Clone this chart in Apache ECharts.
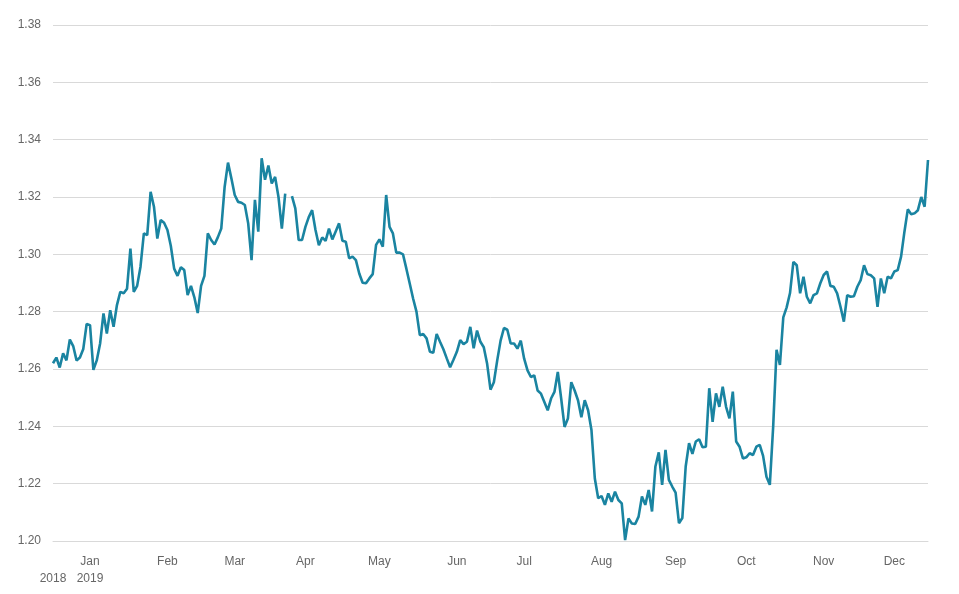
<!DOCTYPE html>
<html>
<head>
<meta charset="utf-8">
<script src="https://cdn.jsdelivr.net/npm/echarts@6/dist/echarts.min.js"></script>
<style>
html,body{margin:0;padding:0;background:#fff;}
#chart{width:959px;height:594px;}
</style>
</head>
<body>
<div id="chart"></div>
<script>
// Weekday closing rates, from 17 Dec 2018 (one value per weekday)
var startDate = '2018-12-17';
var rates = [
  1.262, 1.264, 1.2605, 1.2655, 1.263, 1.2703, 1.268, 1.263, 1.264, 1.267, 1.2757,
  1.2753, 1.2597, 1.263, 1.2689, 1.2794, 1.2724, 1.2805, 1.2747, 1.2823, 1.2869, 1.2864,
  1.288, 1.302, 1.2869, 1.289, 1.2957, 1.3073, 1.3067, 1.3218, 1.3166, 1.3055, 1.312,
  1.311, 1.3085, 1.303, 1.295, 1.2925, 1.2955, 1.2945, 1.2858, 1.289, 1.285, 1.2795,
  1.289, 1.2925, 1.3073, 1.305, 1.3034, 1.306, 1.309, 1.3235, 1.332, 1.3265, 1.3207,
  1.3183, 1.318, 1.3172, 1.3108, 1.298, 1.319, 1.3079, 1.3335, 1.326, 1.331, 1.3247,
  1.327, 1.32, 1.309, 1.3212, null, 1.3203, 1.316, 1.305, 1.305, 1.3096, 1.313,
  1.3154, 1.3085, 1.3032, 1.3059, 1.3047, 1.309, 1.3052, 1.308, 1.3108, 1.3047,
  1.3044, 1.2986, 1.2992, 1.298, 1.2933, 1.2901, 1.2899, 1.2916, 1.2931, 1.3033, 1.3052,
  1.3027, 1.3207, 1.3096, 1.3073, 1.3006, 1.3006, 1.3, 1.295, 1.2898, 1.2846, 1.28,
  1.2718, 1.2722, 1.2707, 1.266, 1.2657, 1.2722, 1.2695, 1.2669, 1.2637, 1.2606, 1.2632,
  1.266, 1.2701, 1.2687, 1.2695, 1.2747, 1.2672, 1.2734, 1.2695, 1.2676,
  1.2618, 1.2528, 1.2554, 1.263, 1.2699, 1.2743, 1.2737, 1.2689, 1.2689, 1.2671, 1.2699,
  1.2636, 1.2595, 1.2572, 1.2578, 1.2525, 1.2514, 1.2485, 1.2456, 1.2497, 1.252, 1.259,
  1.2497, 1.2398, 1.2427, 1.2554, 1.2525, 1.2491, 1.2432, 1.2491, 1.2456, 1.2387, 1.2218,
  1.2149, 1.2157, 1.2126, 1.2166, 1.2137, 1.2172, 1.2143, 1.2131, 1.2003, 1.2079, 1.2061,
  1.2059, 1.2085, 1.2155, 1.2126, 1.2178, 1.2103, 1.226, 1.2309, 1.2196, 1.2318, 1.2213,
  1.219, 1.2169, 1.2062, 1.208, 1.226, 1.2341, 1.2304, 1.2347, 1.2355, 1.2327, 1.2329,
  1.2533, 1.2416, 1.2515, 1.2468, 1.2538, 1.2468, 1.2428, 1.2521, 1.2347, 1.2329, 1.2288,
  1.2292, 1.2306, 1.23, 1.2329, 1.2335, 1.2297, 1.2224, 1.2196, 1.2400, 1.2667, 1.2614,
  1.278, 1.2815, 1.2865, 1.2974, 1.2962, 1.2864, 1.2922, 1.2852, 1.2829, 1.2858, 1.2864,
  1.2899, 1.2928, 1.294, 1.289, 1.2887, 1.2864, 1.2817, 1.2765, 1.2858, 1.2852, 1.2854,
  1.2887, 1.291, 1.2962, 1.2931, 1.2927, 1.2916, 1.2817, 1.2916, 1.2864, 1.2922, 1.2916,
  1.294, 1.2945, 1.2992, 1.3079, 1.3157, 1.314, 1.3143, 1.3154, 1.32, 1.3166, 1.3329
];
var monthNames = ['Jan','Feb','Mar','Apr','May','Jun','Jul','Aug','Sep','Oct','Nov','Dec'];
var yTicks = [1.20, 1.22, 1.24, 1.26, 1.28, 1.30, 1.32, 1.34, 1.36, 1.38];

// Weekday calendar for the category axis
var dates = [];
(function () {
  var d = new Date(startDate + 'T00:00:00Z');
  while (dates.length < rates.length) {
    var wd = d.getUTCDay();
    if (wd !== 0 && wd !== 6) dates.push(d.toISOString().slice(0, 10));
    d.setUTCDate(d.getUTCDate() + 1);
  }
})();

function isMonthStart(i) {
  if (i === 0) return true;
  return dates[i].slice(5, 7) !== dates[i - 1].slice(5, 7);
}

var chart = echarts.init(document.getElementById('chart'), null, {renderer: 'canvas'});
chart.setOption({
  animation: false,
  backgroundColor: '#ffffff',
  grid: {left: 53, right: 31, top: 25, bottom: 53, containLabel: false},
  xAxis: {
    type: 'category',
    data: dates,
    boundaryGap: false,
    axisLine: {show: true, lineStyle: {color: '#d9d9d9', width: 1}},
    axisTick: {show: false},
    splitLine: {show: false},
    axisLabel: {
      interval: function (i) { return isMonthStart(i); },
      hideOverlap: false,
      color: '#666666',
      fontSize: 12,
      fontFamily: 'Liberation Sans, Arial, sans-serif',
      lineHeight: 17,
      margin: 12,
      formatter: function (val, i) {
        if (i === 0) return '\n' + val.slice(0, 4);
        var m = parseInt(val.slice(5, 7), 10) - 1;
        if (m === 0) return monthNames[m] + '\n' + val.slice(0, 4);
        return monthNames[m];
      }
    }
  },
  yAxis: {
    type: 'value',
    min: yTicks[0],
    max: yTicks[yTicks.length - 1],
    interval: 0.02,
    axisLine: {show: false},
    axisTick: {show: false},
    splitLine: {show: true, lineStyle: {color: '#d9d9d9', width: 1}},
    axisLabel: {
      color: '#666666',
      fontSize: 12,
      fontFamily: 'Liberation Sans, Arial, sans-serif',
      margin: 12,
      formatter: function (v) { return v.toFixed(2); }
    }
  },
  series: [{
    type: 'line',
    data: rates,
    showSymbol: false,
    connectNulls: false,
    lineStyle: {color: '#1a84a1', width: 2.6},
    itemStyle: {color: '#1a84a1'}
  }]
});
</script>
</body>
</html>
